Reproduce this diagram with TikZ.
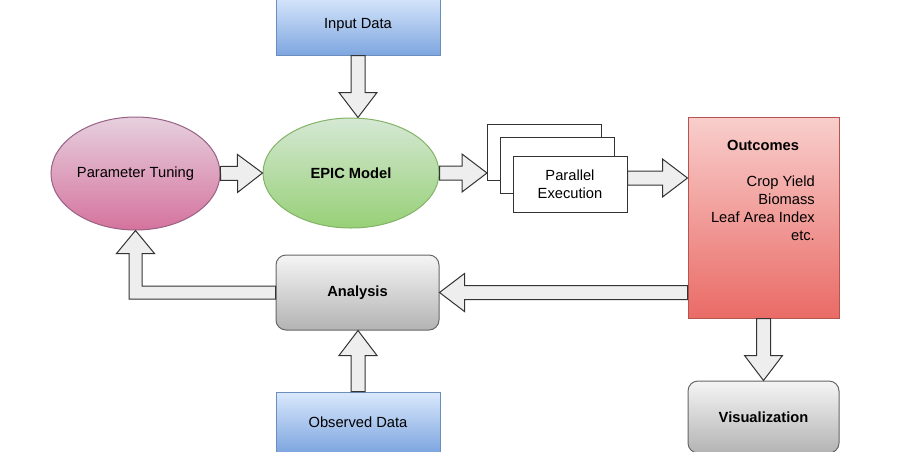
\documentclass[tikz,border=0pt]{standalone}
\usepackage{fontspec}
\setmainfont{Liberation Sans}
\usepackage{tikz}
\usetikzlibrary{shapes.geometric, calc}

\definecolor{datatop}{HTML}{DAE8FC}
\definecolor{databot}{HTML}{7EA6E0}
\definecolor{dataline}{HTML}{6C8EBF}
\definecolor{tunetop}{HTML}{E6D0DE}
\definecolor{tunebot}{HTML}{D5739D}
\definecolor{tuneline}{HTML}{996185}
\definecolor{epictop}{HTML}{D5E8D4}
\definecolor{epicbot}{HTML}{97D077}
\definecolor{epicline}{HTML}{82B366}
\definecolor{outtop}{HTML}{F8CECC}
\definecolor{outbot}{HTML}{EA6B66}
\definecolor{outline}{HTML}{B85450}
\definecolor{graytop}{HTML}{F5F5F5}
\definecolor{graybot}{HTML}{B3B3B3}
\definecolor{grayline}{HTML}{666666}
\definecolor{arrowfill}{HTML}{EEEEEE}
\definecolor{arrowline}{HTML}{333333}

% hollow block arrow from #1 to the tip #2
\newcommand\bigarrow[2]{%
  \coordinate (tmph) at ($(#2)!25pt!(#1)$);
  \draw[blockarrow] ($(#1)!7pt!90:(#2)$) -- ($(tmph)!7pt!90:(#2)$)
    -- ($(tmph)!19pt!90:(#2)$) -- (#2) -- ($(tmph)!19pt!270:(#2)$)
    -- ($(tmph)!7pt!270:(#2)$) -- ($(#1)!7pt!270:(#2)$) -- cycle;}

\begin{document}
\begin{tikzpicture}[
    x=1pt, y=-1pt,
    font=\fontsize{14.7pt}{18pt}\selectfont,
    datanode/.style={rectangle, draw=dataline, line width=1pt, top color=datatop, bottom color=databot,
                     minimum width=164pt, minimum height=60pt, inner sep=0pt},
    tunenode/.style={ellipse, draw=tuneline, line width=1pt, top color=tunetop, bottom color=tunebot,
                     minimum width=169pt, minimum height=113pt, inner sep=0pt},
    epicnode/.style={ellipse, draw=epicline, line width=1pt, top color=epictop, bottom color=epicbot,
                     minimum width=176pt, minimum height=110pt, inner sep=0pt, font=\fontsize{14.7pt}{18pt}\selectfont\bfseries},
    stackbox/.style={rectangle, draw=black!80, line width=1pt, fill=white, align=center,
                     minimum width=114pt, minimum height=56pt, inner sep=0pt},
    outnode/.style={rectangle, draw=outline, line width=1pt, top color=outtop, bottom color=outbot,
                    minimum width=151pt, minimum height=201pt, inner sep=0pt},
    graynode/.style={rectangle, rounded corners=10pt, draw=grayline, line width=1pt, top color=graytop,
                     bottom color=graybot, inner sep=0pt, font=\fontsize{14.7pt}{18pt}\selectfont\bfseries},
    blockarrow/.style={draw=arrowline, fill=arrowfill, line width=1pt, line join=miter}
]
\useasboundingbox (0,0) rectangle (902,451);

\node[datanode] (input) at (358,25) {Input Data};
\node[epicnode] (epic) at (351,173) {EPIC Model};
\node[tunenode] (tune) at (135.5,173.5) {Parameter Tuning};

\node[stackbox] (par1) at (544.5,152.5) {};
\node[stackbox] (par2) at (557.5,165) {};
\node[stackbox] (par) at (570,184) {Parallel\\Execution};

\node[outnode] (out) at (763.5,217.5) {};
\node[font=\fontsize{14.7pt}{18pt}\selectfont\bfseries] (outtitle) at (763,145) {Outcomes};
\node[align=right, anchor=east, inner sep=0pt] (outlist) at (815,208) {Crop Yield\\Biomass\\Leaf Area Index\\etc.};

\node[graynode, minimum width=163pt, minimum height=75pt] (ana) at (357.5,292.5) {Analysis};
\node[datanode] (obs) at (358,422) {Observed Data};
\node[graynode, minimum width=151pt, minimum height=72pt] (vis) at (763.5,417) {Visualization};

% connectors
\coordinate (inTip) at (input.south |- epic.north);
\bigarrow{input.south}{inTip}
\bigarrow{tune.east}{epic.west}
\coordinate (parTip) at (epic.east -| par1.west);
\bigarrow{epic.east}{parTip}
\coordinate (outStart) at ($(par.east)+(0,-6)$);
\coordinate (outTip) at (outStart -| out.west);
\bigarrow{outStart}{outTip}
\coordinate (anaStart) at (out.west |- ana.east);
\bigarrow{anaStart}{ana.east}
\coordinate (obsTip) at (obs.north |- ana.south);
\bigarrow{obs.north}{obsTip}
\bigarrow{out.south}{vis.north}

% elbow from analysis back to tuning
\coordinate (bend) at (tune.south |- ana.west);
\draw[blockarrow] ($(ana.west)+(0,-6.5)$) -- ($(bend)+(6.5,-6.5)$) -- ($(tune.south)+(6.5,23)$)
  -- ($(tune.south)+(19,23)$) -- (tune.south) -- ($(tune.south)+(-19,23)$)
  -- ($(tune.south)+(-6.5,23)$) -- ($(bend)+(-6.5,6.5)$) -- ($(ana.west)+(0,6.5)$) -- cycle;
\end{tikzpicture}
\end{document}
